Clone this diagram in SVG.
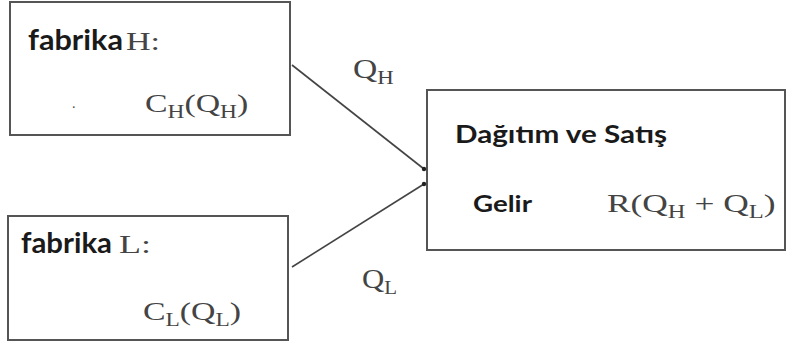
<svg xmlns="http://www.w3.org/2000/svg" width="787" height="343" viewBox="0 0 787 343">
<style>
.box{fill:#fff;stroke:#555;stroke-width:2}
.lbl{font-family:Lato,"Open Sans",sans-serif;font-weight:bold;fill:#1a1a1a}
.math{font-family:"Liberation Serif","DejaVu Serif",serif;fill:#444}
.conn{stroke:#444;stroke-width:1.6;fill:none}
.dot{fill:#222}
</style>
<rect width="787" height="343" fill="#fff"/>
<g id="node-H">
<rect class="box" x="10" y="2" width="280" height="133"/>
<text class="lbl" x="28" y="50" font-size="29" textLength="95" lengthAdjust="spacingAndGlyphs">fabrika</text>
<text class="math" x="126" y="50" font-size="26" textLength="34" lengthAdjust="spacingAndGlyphs">H:</text>
<text class="math" x="72" y="108" font-size="14">.</text>
<text class="math" transform="translate(145,112) scale(1.3,1)" font-size="26">C<tspan font-size="18" dy="6">H</tspan><tspan dy="-6">(Q</tspan><tspan font-size="18" dy="6">H</tspan><tspan dy="-6">)</tspan></text>
</g>
<g id="node-L">
<rect class="box" x="8" y="216" width="280" height="124"/>
<text class="lbl" x="21" y="253" font-size="28" textLength="91" lengthAdjust="spacingAndGlyphs">fabrika</text>
<text class="math" x="119" y="253" font-size="26" textLength="32" lengthAdjust="spacingAndGlyphs">L:</text>
<text class="math" transform="translate(143,320) scale(1.3,1)" font-size="26">C<tspan font-size="18" dy="6">L</tspan><tspan dy="-6">(Q</tspan><tspan font-size="18" dy="6">L</tspan><tspan dy="-6">)</tspan></text>
</g>
<g id="node-D">
<rect class="box" x="427" y="90" width="358" height="160"/>
<text class="lbl" x="455" y="143" font-size="25" textLength="212" lengthAdjust="spacingAndGlyphs">Dağıtım ve Satış</text>
<text class="lbl" x="473" y="212" font-size="23" textLength="59" lengthAdjust="spacingAndGlyphs">Gelir</text>
<text class="math" transform="translate(607,212) scale(1.36,1)" font-size="26">R(Q<tspan font-size="18" dy="6">H</tspan><tspan dy="-6"> + Q</tspan><tspan font-size="18" dy="6">L</tspan><tspan dy="-6">)</tspan></text>
</g>
<g id="connectors">
<line class="conn" x1="292" y1="65" x2="424" y2="169"/>
<line class="conn" x1="292" y1="267" x2="424" y2="184"/>
<circle class="dot" cx="424" cy="169" r="2.2"/>
<circle class="dot" cx="424" cy="184" r="2.2"/>
<text class="math" transform="translate(353,78) scale(1.2,1)" font-size="28">Q<tspan font-size="19" dy="6">H</tspan></text>
<text class="math" transform="translate(362,288) scale(1.1,1)" font-size="28">Q<tspan font-size="19" dy="6">L</tspan></text>
</g>
</svg>
